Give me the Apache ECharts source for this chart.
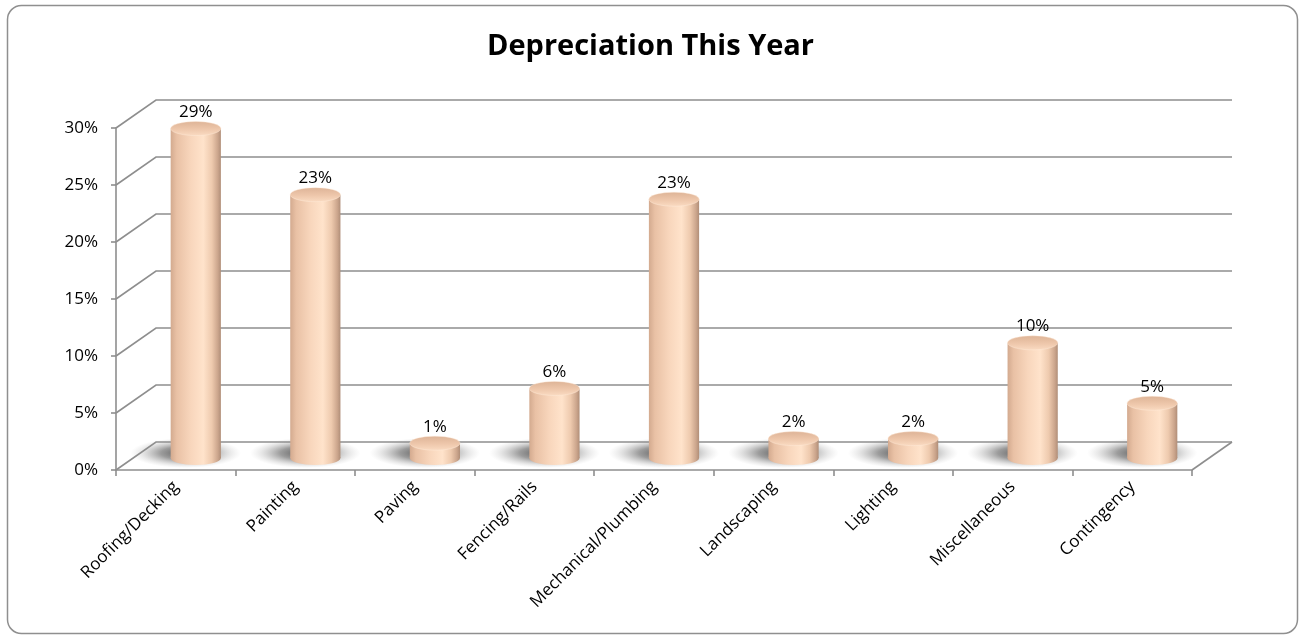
<!DOCTYPE html>
<html>
<head>
<meta charset="utf-8">
<script src="https://cdn.jsdelivr.net/npm/echarts@6/dist/echarts.min.js"></script>
<style>
html,body{margin:0;padding:0;background:#fff;}
#chart{width:1301px;height:639px;}
</style>
</head>
<body>
<div id="chart"></div>
<script>
var titleText = 'Depreciation This Year';
var categories = ['Roofing/Decking','Painting','Paving','Fencing/Rails','Mechanical/Plumbing','Landscaping','Lighting','Miscellaneous','Contingency'];
var values = [28.9, 23.1, 1.3, 6.1, 22.7, 1.7, 1.7, 10.1, 4.8];
var yTicks = [0, 5, 10, 15, 20, 25, 30];

var DX = 40, DY = -28;      // depth of the back wall
var BX = 20, BY = -12;      // bars placed mid-depth
var FONT = '"Open Sans", sans-serif';
var GRID = '#8e8e8e';

var chart = echarts.init(document.getElementById('chart'));

function wallItem(params, api) {
  var v = api.value(1);
  var bw = api.size([1, 0])[0];
  var p0 = api.coord([0, v]);
  var p1 = api.coord([categories.length - 1, v]);
  var left = p0[0] - bw / 2, right = p1[0] + bw / 2, y = p0[1];
  var children = [{
    type: 'polyline',
    shape: { points: [[left, y], [left + DX, y + DY], [right + DX, y + DY]] },
    style: { stroke: GRID, lineWidth: 1.6, fill: null }
  }];
  if (v === 0) {
    children.push({
      type: 'line',
      shape: { x1: right, y1: y, x2: right + DX, y2: y + DY },
      style: { stroke: GRID, lineWidth: 1.6 }
    });
  }
  return { type: 'group', children: children };
}

function barItem(params, api) {
  var i = api.value(0), v = api.value(1);
  var bw = api.size([1, 0])[0];
  var base = api.coord([i, 0]);
  var top = api.coord([i, v]);
  var w = bw * 0.42;
  var rx = w / 2, ry = 7;
  var cx = base[0] + BX, by = base[1] + BY, ty = top[1] + BY;
  var bodyFill = new echarts.graphic.LinearGradient(0, 0, 1, 0, [
    { offset: 0, color: '#d3aa8f' },
    { offset: 0.12, color: '#e9c1a5' },
    { offset: 0.4, color: '#f8d6bc' },
    { offset: 0.65, color: '#ffe3cb' },
    { offset: 0.82, color: '#eecaae' },
    { offset: 0.94, color: '#cba58c' },
    { offset: 1, color: '#b08e78' }
  ]);
  var topFill = new echarts.graphic.LinearGradient(0, 0, 0, 1, [
    { offset: 0, color: '#ddb396' },
    { offset: 0.55, color: '#eec7ab' },
    { offset: 1, color: '#fadbc2' }
  ]);
  var shadowFill = new echarts.graphic.RadialGradient(0.5, 0.5, 0.5, [
    { offset: 0, color: 'rgba(60,60,60,0.9)' },
    { offset: 0.45, color: 'rgba(90,90,90,0.6)' },
    { offset: 0.8, color: 'rgba(140,140,140,0.2)' },
    { offset: 1, color: 'rgba(170,170,170,0)' }
  ]);
  var SR = rx * 2.2, SRY = 15;
  return {
    type: 'group',
    children: [
      { type: 'circle', x: cx - rx * 0.4, y: by - 5, scaleY: SRY / SR, shape: { cx: 0, cy: 0, r: SR }, style: { fill: shadowFill } },
      { type: 'ellipse', shape: { cx: cx, cy: by, rx: rx, ry: ry }, style: { fill: bodyFill } },
      { type: 'rect', shape: { x: cx - rx, y: ty, width: w, height: Math.max(by - ty, 0) }, style: { fill: bodyFill } },
      { type: 'ellipse', shape: { cx: cx, cy: ty, rx: rx, ry: ry }, style: { fill: topFill, stroke: 'rgba(255,236,218,0.7)', lineWidth: 0.6 } },
      { type: 'text', style: { text: Math.round(v) + '%', x: cx, y: ty - 8, align: 'center', verticalAlign: 'bottom', font: '17px ' + FONT, fill: '#000' } }
    ]
  };
}

chart.setOption({
  backgroundColor: '#ffffff',
  animation: false,
  title: {
    text: titleText, left: 'center', top: 27,
    textStyle: { fontFamily: FONT, fontSize: 29, fontWeight: 'bold', color: '#000' }
  },
  graphic: [{
    type: 'rect', silent: true,
    shape: { x: 7.5, y: 5.5, width: 1290, height: 628, r: 14 },
    style: { fill: null, stroke: '#8f8f8f', lineWidth: 1.5 }
  }],
  grid: { left: 116, right: 109, top: 128, bottom: 169 },
  xAxis: {
    type: 'category', data: categories,
    axisLine: { lineStyle: { color: GRID, width: 1.6 } },
    axisTick: { show: true, length: 6, lineStyle: { color: GRID, width: 1.6 } },
    axisLabel: { rotate: 45, interval: 0, margin: 14, fontFamily: FONT, fontSize: 17, color: '#000' },
    splitLine: { show: false }
  },
  yAxis: {
    type: 'value', min: 0, max: 30, interval: 5,
    axisLine: { show: true, lineStyle: { color: GRID, width: 1.6 } },
    axisTick: { show: true, length: 5, lineStyle: { color: GRID, width: 1.6 } },
    axisLabel: { formatter: '{value}%', margin: 18, fontFamily: FONT, fontSize: 17, color: '#000' },
    splitLine: { show: false }
  },
  series: [
    {
      type: 'custom', name: 'walls', silent: true, z: 1,
      renderItem: wallItem,
      data: yTicks.map(function (t) { return [0, t]; })
    },
    {
      type: 'custom', name: 'Depreciation', z: 3,
      renderItem: barItem,
      data: categories.map(function (c, i) { return [i, values[i]]; })
    }
  ]
});
</script>
</body>
</html>
